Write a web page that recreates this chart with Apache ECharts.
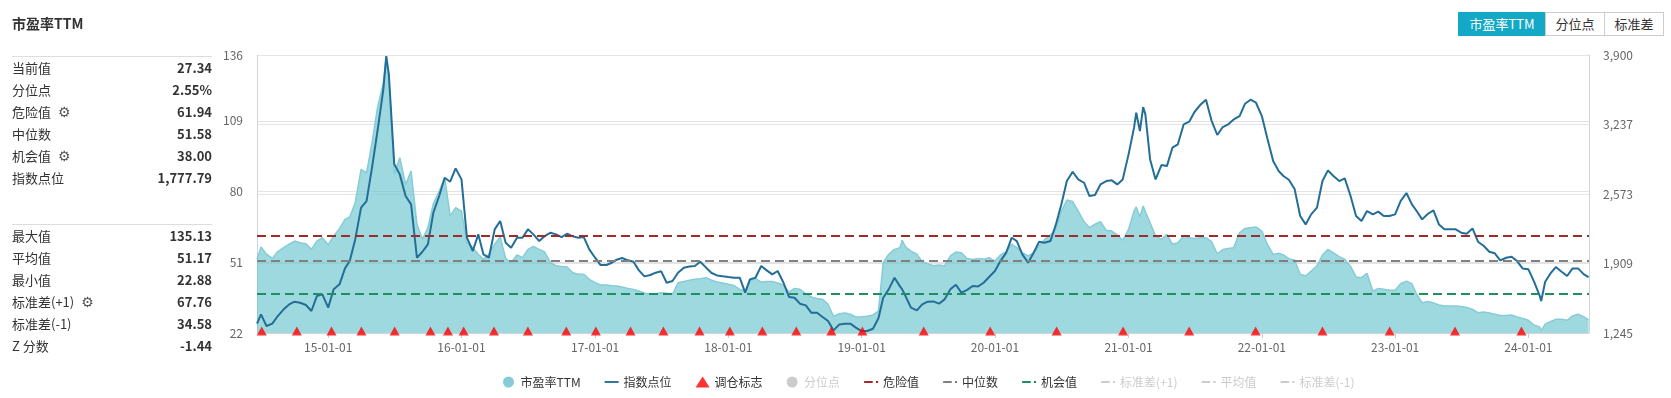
<!DOCTYPE html>
<html lang="zh-CN">
<head>
<meta charset="UTF-8">
<title>市盈率TTM</title>
<script src="https://cdn.jsdelivr.net/npm/echarts@6/dist/echarts.min.js"></script>
<style>
  html, body { margin: 0; padding: 0; background: #fff; }
  body { width: 1671px; height: 398px; position: relative; overflow: hidden;
         font-family: 'Noto Sans CJK SC', 'Microsoft YaHei', sans-serif; color: #333; }
  #main { position: absolute; left: 0; top: 0; width: 1671px; height: 398px; }
  .panel { position: absolute; left: 12px; top: 0; width: 200px; font-size: 13px; z-index: 2; }
  .title { position: absolute; left: 0; top: 13px; font-size: 14px; font-weight: bold; white-space: nowrap; }
  .box { position: absolute; left: 0; width: 200px; border-top: 1px solid #ddd; }
  .row { height: 22px; line-height: 22px; display: flex; justify-content: space-between; white-space: nowrap; }
  .row b { font-weight: bold; }
  .gear { color: #555; font-size: 14px; margin-left: 7px; font-family: 'DejaVu Sans', sans-serif; }
  .btns { position: absolute; top: 12px; left: 1459px; display: flex; font-size: 13px; z-index: 2; }
  .btns span { box-sizing: border-box; height: 24px; line-height: 22px; text-align: center;
               border: 1px solid #ccc; margin-left: -1px; color: #333; background: #fff; }
  .btns .on { background: #13a8c5; color: #fff; border-color: #13a8c5; }
</style>
</head>
<body>
<div id="main"></div>

<div class="panel">
  <div class="title">市盈率TTM</div>
  <div class="box" style="top:56px">
    <div class="row"><span>当前值</span><b>27.34</b></div>
    <div class="row"><span>分位点</span><b>2.55%</b></div>
    <div class="row"><span>危险值<span class="gear">⚙</span></span><b>61.94</b></div>
    <div class="row"><span>中位数</span><b>51.58</b></div>
    <div class="row"><span>机会值<span class="gear">⚙</span></span><b>38.00</b></div>
    <div class="row"><span>指数点位</span><b>1,777.79</b></div>
  </div>
  <div class="box" style="top:224px">
    <div class="row"><span>最大值</span><b>135.13</b></div>
    <div class="row"><span>平均值</span><b>51.17</b></div>
    <div class="row"><span>最小值</span><b>22.88</b></div>
    <div class="row"><span>标准差(+1)<span class="gear">⚙</span></span><b>67.76</b></div>
    <div class="row"><span>标准差(-1)</span><b>34.58</b></div>
    <div class="row"><span>Z 分数</span><b>-1.44</b></div>
  </div>
</div>

<div class="btns">
  <span class="on" style="width:88px">市盈率TTM</span>
  <span style="width:60px">分位点</span>
  <span style="width:60px">标准差</span>
</div>

<script>
// 日期（半月一取，部分拐点加密）
var dates = [
  '2014-06-20','2014-07-01','2014-07-16','2014-08-01','2014-08-16','2014-09-01','2014-09-16','2014-10-01','2014-10-16','2014-11-01','2014-11-16','2014-12-01','2014-12-16',
  '2015-01-01','2015-01-16','2015-02-01','2015-02-16','2015-03-01','2015-03-16','2015-04-01','2015-04-16','2015-05-01','2015-05-16','2015-06-01','2015-06-09','2015-06-16',
  '2015-07-01','2015-07-16','2015-08-01','2015-08-16','2015-09-01','2015-09-16','2015-10-01','2015-10-16','2015-11-01','2015-11-16','2015-12-01','2015-12-16',
  '2016-01-01','2016-01-16','2016-02-01','2016-02-16','2016-03-01','2016-03-16','2016-04-01','2016-04-16','2016-05-01','2016-05-16','2016-06-01','2016-06-16',
  '2016-07-01','2016-07-16','2016-08-01','2016-08-16','2016-09-01','2016-09-16','2016-10-01','2016-10-16','2016-11-01','2016-11-16','2016-12-01','2016-12-16',
  '2017-01-01','2017-01-16','2017-02-01','2017-02-16','2017-03-01','2017-03-16','2017-04-01','2017-04-16','2017-05-01','2017-05-16','2017-06-01','2017-06-16',
  '2017-07-01','2017-07-16','2017-08-01','2017-08-16','2017-09-01','2017-09-16','2017-10-01','2017-10-16','2017-11-01','2017-11-16','2017-12-01','2017-12-16',
  '2018-01-01','2018-01-16','2018-02-01','2018-02-16','2018-03-01','2018-03-16','2018-04-01','2018-04-16','2018-05-01','2018-05-16','2018-06-01','2018-06-16',
  '2018-07-01','2018-07-16','2018-08-01','2018-08-16','2018-09-01','2018-09-16','2018-10-01','2018-10-16','2018-11-01','2018-11-16','2018-12-01','2018-12-16',
  '2019-01-01','2019-01-16','2019-02-01','2019-02-16','2019-03-01','2019-03-16','2019-04-01','2019-04-16','2019-04-22','2019-05-01','2019-05-16','2019-06-01','2019-06-16',
  '2019-07-01','2019-07-16','2019-08-01','2019-08-16','2019-09-01','2019-09-16','2019-10-01','2019-10-16','2019-11-01','2019-11-16','2019-12-01','2019-12-16',
  '2020-01-01','2020-01-16','2020-02-01','2020-02-16','2020-03-01','2020-03-16','2020-04-01','2020-04-16','2020-05-01','2020-05-16','2020-06-01','2020-06-16',
  '2020-07-01','2020-07-16','2020-08-01','2020-08-16','2020-09-01','2020-09-16','2020-10-01','2020-10-16','2020-11-01','2020-11-16','2020-12-01','2020-12-16',
  '2021-01-01','2021-01-16','2021-01-22','2021-02-01','2021-02-10','2021-02-16','2021-03-01','2021-03-16','2021-04-01','2021-04-16','2021-05-01','2021-05-16','2021-06-01','2021-06-16',
  '2021-07-01','2021-07-16','2021-08-01','2021-08-16','2021-09-01','2021-09-16','2021-10-01','2021-10-16','2021-11-01','2021-11-16','2021-12-01','2021-12-16',
  '2022-01-01','2022-01-16','2022-02-01','2022-02-16','2022-03-01','2022-03-16','2022-04-01','2022-04-16','2022-05-01','2022-05-16','2022-06-01','2022-06-16',
  '2022-07-01','2022-07-16','2022-08-01','2022-08-16','2022-09-01','2022-09-16','2022-10-01','2022-10-16','2022-11-01','2022-11-16','2022-12-01','2022-12-16',
  '2023-01-01','2023-01-16','2023-02-01','2023-02-16','2023-03-01','2023-03-16','2023-04-01','2023-04-16','2023-05-01','2023-05-16','2023-06-01','2023-06-16',
  '2023-07-01','2023-07-16','2023-08-01','2023-08-16','2023-09-01','2023-09-16','2023-10-01','2023-10-16','2023-11-01','2023-11-16','2023-12-01','2023-12-16',
  '2024-01-01','2024-01-16','2024-02-01','2024-02-05','2024-02-16','2024-03-01','2024-03-16','2024-04-01','2024-04-16','2024-05-01','2024-05-16','2024-06-01','2024-06-14'
];

// 市盈率TTM
var peValues = [
  52.2,57.3,54.3,52.6,55.4,57.0,58.4,59.7,59.0,58.6,56.3,59.7,61.1,
  58.1,61.8,64.8,68.6,69.6,75.4,89.1,87.7,100.0,114.4,124.6,135.1,128.0,
  87.1,93.9,82.9,88.4,66.6,60.4,65.2,75.0,80.2,85.7,70.0,73.4,
  72.0,59.0,57.0,54.3,52.2,54.3,58.4,61.4,52.6,50.8,54.0,52.9,
  56.3,57.5,56.3,55.2,50.8,49.6,49.3,49.1,46.7,46.1,46.1,44.0,
  42.6,41.7,41.7,41.4,41.3,40.9,40.3,39.8,39.2,38.4,37.9,38.1,
  38.5,38.3,37.9,42.6,43.1,43.6,44.0,44.3,44.7,43.7,42.9,42.5,
  42.0,41.5,39.9,39.2,43.3,44.4,42.9,43.1,43.1,42.5,41.7,38.8,
  40.3,39.9,38.1,36.8,36.1,35.8,33.8,28.8,29.9,30.2,29.7,28.6,
  28.7,28.9,29.4,31.0,50.8,54.3,56.3,57.0,60.0,57.3,55.6,54.3,51.2,
  50.4,49.6,49.9,49.5,53.6,55.2,54.9,52.6,52.1,52.6,52.3,52.9,
  51.5,54.0,55.4,58.4,57.0,54.9,53.6,54.9,57.7,60.4,62.2,64.5,
  72.0,76.5,75.9,72.0,67.7,65.2,66.6,67.7,64.1,63.8,62.2,60.0,
  64.5,72.0,73.7,69.6,74.1,71.8,67.2,61.8,60.4,62.5,58.4,59.0,61.8,61.1,
  60.8,61.1,61.1,59.5,54.5,56.2,56.7,57.0,63.1,64.9,65.2,65.5,
  63.8,58.4,54.2,54.7,54.0,52.5,51.8,46.1,45.4,47.4,49.5,54.0,
  56.3,54.9,53.3,52.3,49.3,45.0,44.7,46.5,39.2,40.3,39.9,39.5,
  39.5,42.2,43.3,42.2,37.9,34.4,34.9,34.3,33.5,33.1,33.1,33.1,
  32.9,32.5,31.7,30.3,30.6,30.2,29.7,29.2,29.2,29.4,28.6,28.0,
  27.2,25.3,24.5,22.9,25.6,26.6,27.6,27.6,27.2,29.0,29.7,28.6,27.34
];

// 指数点位
var indexValues = [
  1334,1423,1312,1334,1407,1471,1518,1544,1534,1512,1455,1598,1614,
  1487,1662,1710,1862,1932,2139,2442,2505,2824,3174,3572,3890,3715,
  2856,2760,2553,2473,1964,2021,2092,2394,2553,2728,2690,2817,
  2712,2155,2028,2187,1996,1964,2235,2314,2107,2060,2155,2155,
  2235,2187,2123,2171,2203,2187,2161,2193,2168,2155,2161,2044,
  1964,1894,1894,1916,1945,1961,1939,1926,1843,1786,1799,1821,
  1834,1725,1741,1821,1869,1881,1885,1926,1869,1818,1795,1786,
  1779,1773,1773,1630,1757,1773,1885,1843,1805,1837,1725,1589,
  1582,1525,1509,1439,1439,1398,1359,1270,1327,1334,1334,1296,
  1264,1264,1286,1385,1582,1662,1773,1690,1662,1598,1487,1461,1518,
  1544,1547,1525,1566,1662,1706,1630,1655,1694,1690,1725,1780,
  1837,1932,2012,2155,2123,1996,1916,2012,2117,2107,2123,2282,
  2474,2696,2785,2712,2680,2553,2563,2664,2696,2703,2664,2712,
  2951,3206,3349,3174,3403,3333,2903,2712,2849,2839,3015,3047,3238,3263,
  3358,3422,3473,3276,3136,3212,3238,3285,3317,3435,3473,3444,
  3317,3104,2887,2792,2744,2709,2617,2362,2282,2378,2442,2696,
  2798,2744,2696,2722,2553,2362,2314,2410,2378,2404,2362,2362,
  2378,2505,2582,2474,2410,2330,2384,2416,2282,2235,2235,2235,
  2203,2193,2244,2117,2076,2021,2006,1939,1964,1974,1932,1862,
  1853,1741,1600,1550,1735,1811,1875,1830,1789,1862,1862,1805,1777.79
];

// 调仓日期
var rebalanceDates = [
  '2014-07-03','2014-10-07','2015-01-10','2015-04-02','2015-07-02','2015-10-08','2015-11-25','2016-01-07',
  '2016-03-30','2016-07-01','2016-10-14','2017-01-03','2017-04-08','2017-07-07','2017-10-14','2018-01-05',
  '2018-04-04','2018-07-06','2018-10-10','2019-01-03','2019-06-20','2019-12-19','2020-06-18','2020-12-17',
  '2021-06-16','2021-12-15','2022-06-16','2022-12-17','2023-06-14','2023-12-13'
];

var dangerValue = 61.94;
var medianValue = 51.58;
var chanceValue = 38.00;
var stdUpper = 67.76;
var meanValue = 51.17;
var stdLower = 34.58;

var peAxisTicks = { min: 22, max: 136, step: 29 };
var idxAxisTicks = { min: 1245, max: 3900, step: 663.75 };

// 图例小图标
var lineIcon = 'path://M0,0H15V2H0Z';
var dashIcon = 'path://M0,0H8V2H0Z M11,0H13V2H11Z';

var myChart = echarts.init(document.getElementById('main'));

function refLine(name, color, value) {
    return {
        name: name,
        type: 'line',
        yAxisIndex: 0,
        data: [],
        symbol: 'none',
        itemStyle: { color: color },
        lineStyle: { color: color, width: 2, type: [8, 4] },
        markLine: {
            silent: true,
            symbol: 'none',
            label: { show: false },
            lineStyle: { color: color, width: 2, type: [9, 5] },
            data: [{ yAxis: value }]
        }
    };
}

var option = {
    animation: false,
    textStyle: { fontFamily: 'Noto Sans CJK SC, Microsoft YaHei, sans-serif' },
    grid: { left: 257, right: 82, top: 55, bottom: 65 },
    legend: {
        left: 498,
        top: 371,
        itemWidth: 14,
        itemHeight: 11,
        itemGap: 24,
        symbolKeepAspect: true,
        inactiveColor: '#ccc',
        textStyle: { fontSize: 12, color: '#333' },
        data: [
            { name: '市盈率TTM', icon: 'circle' },
            { name: '指数点位', icon: lineIcon },
            { name: '调仓标志', icon: 'triangle' },
            { name: '分位点', icon: 'circle' },
            { name: '危险值', icon: dashIcon },
            { name: '中位数', icon: dashIcon },
            { name: '机会值', icon: dashIcon },
            { name: '标准差(+1)', icon: dashIcon },
            { name: '平均值', icon: dashIcon },
            { name: '标准差(-1)', icon: dashIcon }
        ],
        selected: { '分位点': false, '标准差(+1)': false, '平均值': false, '标准差(-1)': false }
    },
    xAxis: {
        type: 'time',
        min: '2014-06-20',
        max: '2024-06-15',
        splitNumber: 10,
        axisLine: { lineStyle: { color: '#d5d5d5' } },
        axisTick: { show: true, lineStyle: { color: '#ccc' } },
        axisLabel: { formatter: '{yy}-{MM}-{dd}', color: '#666', fontSize: 12, margin: 8 },
        splitLine: { show: false }
    },
    yAxis: [
        {
            type: 'value',
            position: 'left',
            min: peAxisTicks.min,
            max: peAxisTicks.max,
            interval: peAxisTicks.step,
            axisLine: { show: true, lineStyle: { color: '#cdd6de' } },
            axisTick: { show: false },
            axisLabel: { color: '#666', fontSize: 12, margin: 14 },
            splitLine: { lineStyle: { color: '#e4e4e4' } }
        },
        {
            type: 'value',
            position: 'right',
            min: idxAxisTicks.min,
            max: idxAxisTicks.max,
            interval: idxAxisTicks.step,
            axisLine: { show: true, lineStyle: { color: '#cdd6de' } },
            axisTick: { show: false },
            axisLabel: {
                color: '#666', fontSize: 12, margin: 14,
                formatter: function (v) { return Math.ceil(v).toLocaleString('en-US'); }
            },
            splitLine: { lineStyle: { color: '#e4e4e4' } }
        }
    ],
    series: [
        {
            name: '市盈率TTM',
            type: 'line',
            yAxisIndex: 0,
            symbol: 'none',
            z: 2,
            data: dates.map(function (d, i) { return [d, peValues[i]]; }),
            itemStyle: { color: '#86ccd7' },
            lineStyle: { color: '#86ccd7', width: 1.5 },
            areaStyle: { color: '#6cc4d0', opacity: 0.65 }
        },
        {
            name: '指数点位',
            type: 'line',
            yAxisIndex: 1,
            symbol: 'none',
            z: 4,
            data: dates.map(function (d, i) { return [d, indexValues[i]]; }),
            itemStyle: { color: '#236e97' },
            lineStyle: { color: '#236e97', width: 2 }
        },
        {
            name: '调仓标志',
            type: 'scatter',
            yAxisIndex: 0,
            symbol: 'triangle',
            symbolSize: [10, 9],
            symbolOffset: [0, -2],
            clip: false,
            z: 5,
            itemStyle: { color: '#ff0000' },
            data: rebalanceDates.map(function (d) { return [d, peAxisTicks.min]; })
        },
        {
            name: '分位点',
            type: 'line',
            yAxisIndex: 0,
            data: [],
            symbol: 'circle',
            itemStyle: { color: '#ccc' }
        },
        refLine('危险值', '#a02b2b', dangerValue),
        refLine('中位数', '#808080', medianValue),
        refLine('机会值', '#1f8f62', chanceValue),
        refLine('标准差(+1)', '#999', stdUpper),
        refLine('平均值', '#999', meanValue),
        refLine('标准差(-1)', '#999', stdLower)
    ]
};

myChart.setOption(option);
</script>
</body>
</html>
